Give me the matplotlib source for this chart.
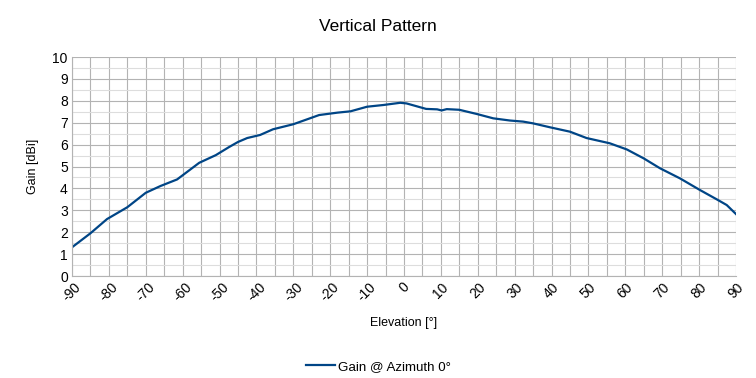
import matplotlib.pyplot as plt
import numpy as np

elevation = [-90, -85, -80.5, -75, -70, -66, -61.5, -55.5, -51, -47.5, -45, -42.5, -39,
             -35.5, -30, -23, -18, -14.5, -10, -5.5, -1, 0.7, 6, 9, 10.2, 11.6, 15,
             19.7, 24.2, 28.7, 32.3, 35, 39.6, 45, 49.5, 55.8, 60.4, 65, 69.4, 74.8,
             80.2, 84.8, 87.5, 90]
gain = [1.31, 1.95, 2.6, 3.14, 3.8, 4.11, 4.41, 5.17, 5.52, 5.88, 6.12, 6.3, 6.44,
        6.7, 6.93, 7.35, 7.46, 7.52, 7.73, 7.81, 7.91, 7.88, 7.63, 7.61, 7.56, 7.62,
        7.59, 7.4, 7.2, 7.1, 7.05, 6.97, 6.79, 6.59, 6.3, 6.06, 5.78, 5.37, 4.92,
        4.46, 3.93, 3.5, 3.24, 2.83]

plt.rcParams['font.family'] = ['Liberation Sans', 'DejaVu Sans']
plt.rcParams['axes.unicode_minus'] = False

fig = plt.figure(figsize=(7.56, 3.78), dpi=100)
ax = fig.add_axes([0.0952, 0.2698, 0.8783, 0.5794])

ax.plot(elevation, gain, color='#004586', lw=1.6, label='Gain @ Azimuth 0°')

ax.set_xlim(-90, 90)
ax.set_ylim(0, 10)
ax.set_xticks(np.arange(-90, 91, 10))
ax.set_xticks(np.arange(-85, 90, 10), minor=True)
ax.set_yticks(np.arange(0, 11, 1))
ax.set_yticks(np.arange(0.5, 10, 1), minor=True)
ax.grid(which='major', color='#b3b3b3', lw=0.8)
ax.grid(which='minor', axis='x', color='#b3b3b3', lw=0.8)
ax.grid(which='minor', axis='y', color='#dddddd', lw=0.8)
ax.set_axisbelow(True)
ax.tick_params(which='both', length=0, labelsize=10, colors='#000000', pad=3)
for lbl in ax.get_xticklabels():
    lbl.set_rotation(45)
    lbl.set_ha('center')
    lbl.set_va('top')
for s in ['top', 'right']:
    ax.spines[s].set_visible(False)
for s in ['left', 'bottom']:
    ax.spines[s].set_color('#b3b3b3')

fig.suptitle('Vertical Pattern', y=0.95, fontsize=12.5)
ax.set_xlabel('Elevation [°]', fontsize=9, labelpad=9)
ax.set_ylabel('Gain [dBi]', fontsize=9, labelpad=10)
fig.legend(loc='center', bbox_to_anchor=(0.5, 0.03), frameon=False, fontsize=9.6,
           handlelength=2.2, handletextpad=0.2)

fig.savefig('out.png', dpi=100)
